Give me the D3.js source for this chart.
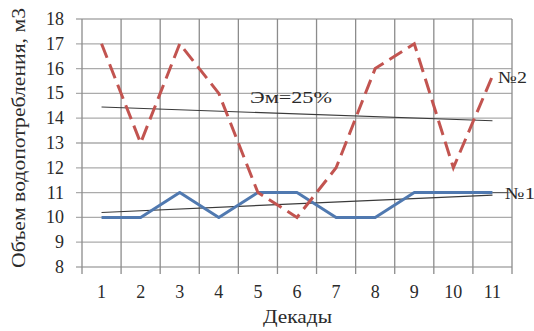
<!DOCTYPE html>
<html><head><meta charset="utf-8">
<script src="https://cdn.jsdelivr.net/npm/d3@7/dist/d3.min.js"></script>
<style>
html,body{margin:0;padding:0;background:#fff;}
svg{display:block;}
text{font-family:"Liberation Serif","Times New Roman",serif;fill:#2a2a2a;}
</style></head>
<body><svg id="c" width="534" height="331"></svg>
<script>
const categories = ["1","2","3","4","5","6","7","8","9","10","11"];
const series1 = [10,10,11,10,11,11,10,10,11,11,11];
const series2 = [17,13,17,15,11,10,12,16,17,12,15.7];
const trend1 = [10.2,10.9];
const trend2 = [14.45,13.9];
const yTicks = [8,9,10,11,12,13,14,15,16,17,18];
const labels = {s1:"№1", s2:"№2", trend:"Эм=25%", x:"Декады", y:"Объем водопотребления, м3"};

const svg = d3.select("#c");
const L=82,R=512,T=19,B=267;
const x = d3.scaleBand().domain(categories).range([L,R]);
const y = d3.scaleLinear().domain([8,18]).range([B,T]);
const cx = c => x(c)+x.bandwidth()/2;

// horizontal grid
svg.append("g").selectAll("line").data(yTicks).join("line")
  .attr("x1",L-6).attr("x2",R).attr("y1",d=>y(d)).attr("y2",d=>y(d))
  .attr("stroke","#ababab").attr("stroke-width",1.3);
// vertical grid at band boundaries
const bounds = categories.map(c=>x(c)).concat([R]);
svg.append("g").selectAll("line").data(bounds).join("line")
  .attr("x1",d=>d).attr("x2",d=>d).attr("y1",T).attr("y2",B+7)
  .attr("stroke","#8c8c8c").attr("stroke-width",1.3);

// y tick labels
svg.append("g").selectAll("text").data(yTicks).join("text")
  .attr("x",64).attr("y",d=>y(d)+6).attr("text-anchor","end")
  .attr("font-size",18).text(d=>d);
// x tick labels
svg.append("g").selectAll("text").data(categories).join("text")
  .attr("x",d=>cx(d)).attr("y",298).attr("text-anchor","middle")
  .attr("font-size",18).text(d=>d);

// axis titles
svg.append("text").attr("x",263).attr("y",323)
  .attr("font-size",18).attr("textLength",69).attr("lengthAdjust","spacingAndGlyphs").text(labels.x);
svg.append("text").attr("transform","translate(25,268) rotate(-90)")
  .attr("font-size",18).attr("textLength",260).attr("lengthAdjust","spacingAndGlyphs").text(labels.y);

// trend lines
const tl = d3.line().x(d=>d[0]).y(d=>y(d[1]));
[trend1,trend2].forEach(t=>{
  svg.append("path").attr("d",tl([[cx(categories[0]),t[0]],[cx(categories[categories.length-1]),t[1]]]))
   .attr("stroke","#3a3a3a").attr("stroke-width",1.1).attr("fill","none");
});

const line = d3.line().x((d,i)=>cx(categories[i])).y(d=>y(d));
svg.append("path").datum(series1).attr("d",line)
  .attr("stroke","#5079b0").attr("stroke-width",3).attr("fill","none").attr("stroke-linejoin","round");
svg.append("path").datum(series2).attr("d",line)
  .attr("stroke","#c25450").attr("stroke-width",3).attr("fill","none")
  .attr("stroke-dasharray","15,7");

// labels
svg.append("text").attr("x",250).attr("y",103).attr("font-size",17)
  .attr("textLength",82).attr("lengthAdjust","spacingAndGlyphs").text(labels.trend);
svg.append("text").attr("x",498).attr("y",83).attr("font-size",17)
  .attr("textLength",29).attr("lengthAdjust","spacingAndGlyphs").text(labels.s2);
const last = cx(categories[categories.length-1]);
svg.append("line").attr("x1",last).attr("x2",507).attr("y1",y(series1[10])).attr("y2",y(series1[10]))
  .attr("stroke","#555").attr("stroke-width",1);
svg.append("text").attr("x",505).attr("y",y(series1[10])+6).attr("font-size",17)
  .attr("textLength",30).attr("lengthAdjust","spacingAndGlyphs").text(labels.s1);
</script></body></html>
